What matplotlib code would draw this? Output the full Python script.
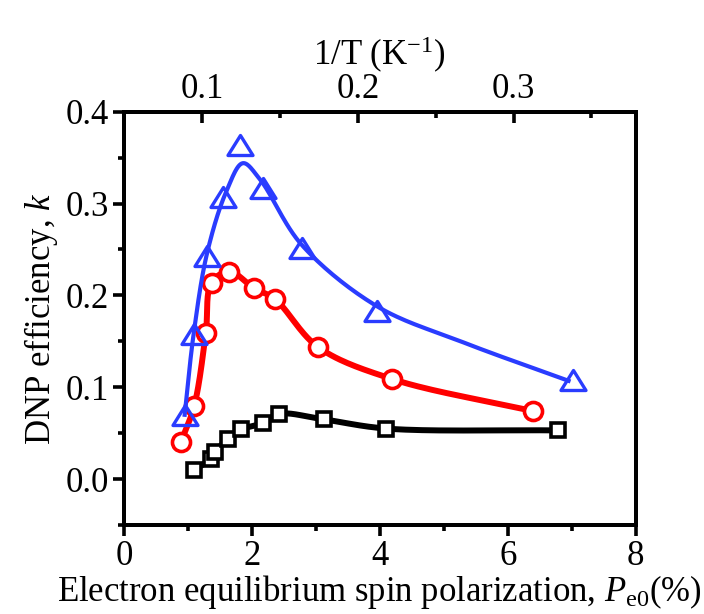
import numpy as np
import matplotlib
matplotlib.use("Agg")
import matplotlib.pyplot as plt
from matplotlib.path import Path

plt.rcParams["font.family"] = ["Liberation Serif", "DejaVu Serif"]
plt.rcParams["mathtext.fontset"] = "custom"
plt.rcParams["mathtext.rm"] = "Liberation Serif"
plt.rcParams["mathtext.it"] = "Liberation Serif:italic"

# Electron equilibrium spin polarization P_e0 (%) and DNP efficiency k
blue_x = [0.95, 1.09, 1.30, 1.55, 1.82, 2.18, 2.78, 3.96, 7.02]
blue_y = [0.070, 0.158, 0.243, 0.307, 0.364, 0.317, 0.252, 0.183, 0.108]

red_x = [0.89, 1.10, 1.28, 1.37, 1.65, 2.03, 2.36, 3.03, 4.19, 6.39]
red_y = [0.040, 0.080, 0.159, 0.214, 0.226, 0.208, 0.196, 0.144, 0.109, 0.074]

black_x = [1.10, 1.36, 1.43, 1.62, 1.83, 2.18, 2.43, 3.12, 4.10, 6.79]
black_y = [0.010, 0.022, 0.029, 0.044, 0.054, 0.061, 0.071, 0.065, 0.055, 0.053]

# guide curve for the blue series
blue_fit_x = [0.95, 1.09, 1.30, 1.60, 1.86, 2.13, 2.78, 3.96, 5.30, 6.95]
blue_fit_y = [0.070, 0.158, 0.246, 0.313, 0.344, 0.326, 0.255, 0.188, 0.149, 0.107]

x_ticks = [0, 2, 4, 6, 8]
y_ticks = [0.0, 0.1, 0.2, 0.3, 0.4]
top_ticks = [0.1, 0.2, 0.3]


def smooth(xs, ys, sx=64.0, sy=920.0, n=30):
    """Centripetal Catmull-Rom curve through the given nodes."""
    p = np.column_stack([np.asarray(xs) * sx, np.asarray(ys) * sy])
    p = np.vstack([2 * p[0] - p[1], p, 2 * p[-1] - p[-2]])
    out = []
    for i in range(1, len(p) - 2):
        p0, p1, p2, p3 = p[i - 1], p[i], p[i + 1], p[i + 2]
        t0 = 0.0
        t1 = t0 + np.linalg.norm(p1 - p0) ** 0.5 + 1e-9
        t2 = t1 + np.linalg.norm(p2 - p1) ** 0.5 + 1e-9
        t3 = t2 + np.linalg.norm(p3 - p2) ** 0.5 + 1e-9
        t = np.linspace(t1, t2, n)[:, None]
        a1 = (t1 - t) / (t1 - t0) * p0 + (t - t0) / (t1 - t0) * p1
        a2 = (t2 - t) / (t2 - t1) * p1 + (t - t1) / (t2 - t1) * p2
        a3 = (t3 - t) / (t3 - t2) * p2 + (t - t2) / (t3 - t2) * p3
        b1 = (t2 - t) / (t2 - t0) * a1 + (t - t0) / (t2 - t0) * a2
        b2 = (t3 - t) / (t3 - t1) * a2 + (t - t1) / (t3 - t1) * a3
        c = (t2 - t) / (t2 - t1) * b1 + (t - t1) / (t2 - t1) * b2
        out.append(c if i == 1 else c[1:])
    c = np.vstack(out)
    return c[:, 0] / sx, c[:, 1] / sy


fig = plt.figure(figsize=(7.04, 6.14), dpi=100)
ax = fig.add_axes([0.176, 0.145, 0.727, 0.673])

blue = "#2a3cff"
red = "#ff0000"
tri = Path([(0, 0.8), (-1, -0.8), (1, -0.8), (0, 0.8)],
           [Path.MOVETO, Path.LINETO, Path.LINETO, Path.CLOSEPOLY])

bx, by = smooth(black_x, black_y)
ax.plot(bx, by, color="black", lw=4.3, zorder=2, solid_capstyle="butt")
ax.plot(black_x, black_y, ls="none", marker="s", ms=10.5, mfc="white",
        mec="black", mew=2.6, zorder=3)

rx, ry = smooth(red_x, red_y)
ax.plot(rx, ry, color=red, lw=4.3, zorder=4, solid_capstyle="butt")
ax.plot(red_x, red_y, ls="none", marker="o", ms=13, mfc="white",
        mec=red, mew=2.6, zorder=5)

fx, fy = smooth(blue_fit_x, blue_fit_y)
ax.plot(fx, fy, color=blue, lw=3.0, zorder=6)
ax.plot(blue_x, blue_y, ls="none", marker=tri, ms=18, mfc="none",
        mec=blue, mew=2.4, zorder=7)

ax.set_xlim(0, 8)
ax.set_ylim(-0.05, 0.4)
ax.set_xticks(x_ticks)
ax.set_xticks([1, 3, 5, 7], minor=True)
ax.set_yticks(y_ticks)
ax.set_yticks([-0.05, 0.05, 0.15, 0.25, 0.35], minor=True)
ax.set_yticklabels([f"{v:.1f}" for v in y_ticks])
ax.tick_params(which="major", direction="out", length=8, width=2.6,
               labelsize=25, pad=3)
ax.tick_params(which="minor", direction="out", length=4.5, width=2.6)
ax.tick_params(which="both", top=False, right=False)
for s in ax.spines.values():
    s.set_linewidth(2.8)

ax.set_xlabel("Electron equilibrium spin polarization, $P_{\\mathrm{e0}}$(%)",
              fontsize=25, labelpad=0)
ax.set_ylabel("DNP efficiency, $k$", fontsize=25, labelpad=4)

top = ax.twiny()
top.set_xlim(0.0497, 0.3785)
top.set_xticks(top_ticks)
top.set_xticks([0.15, 0.25, 0.35], minor=True)
top.set_xticklabels([f"{v:.1f}" for v in top_ticks])
top.tick_params(which="major", direction="in", length=8, width=2.6,
                labelsize=25, pad=4)
top.tick_params(which="minor", direction="in", length=4.5, width=2.6)
top.set_xlabel("1/T (K$^{-1}$)", fontsize=25, labelpad=6)
for s in top.spines.values():
    s.set_linewidth(2.8)

fig.savefig("out.png", dpi=100)
